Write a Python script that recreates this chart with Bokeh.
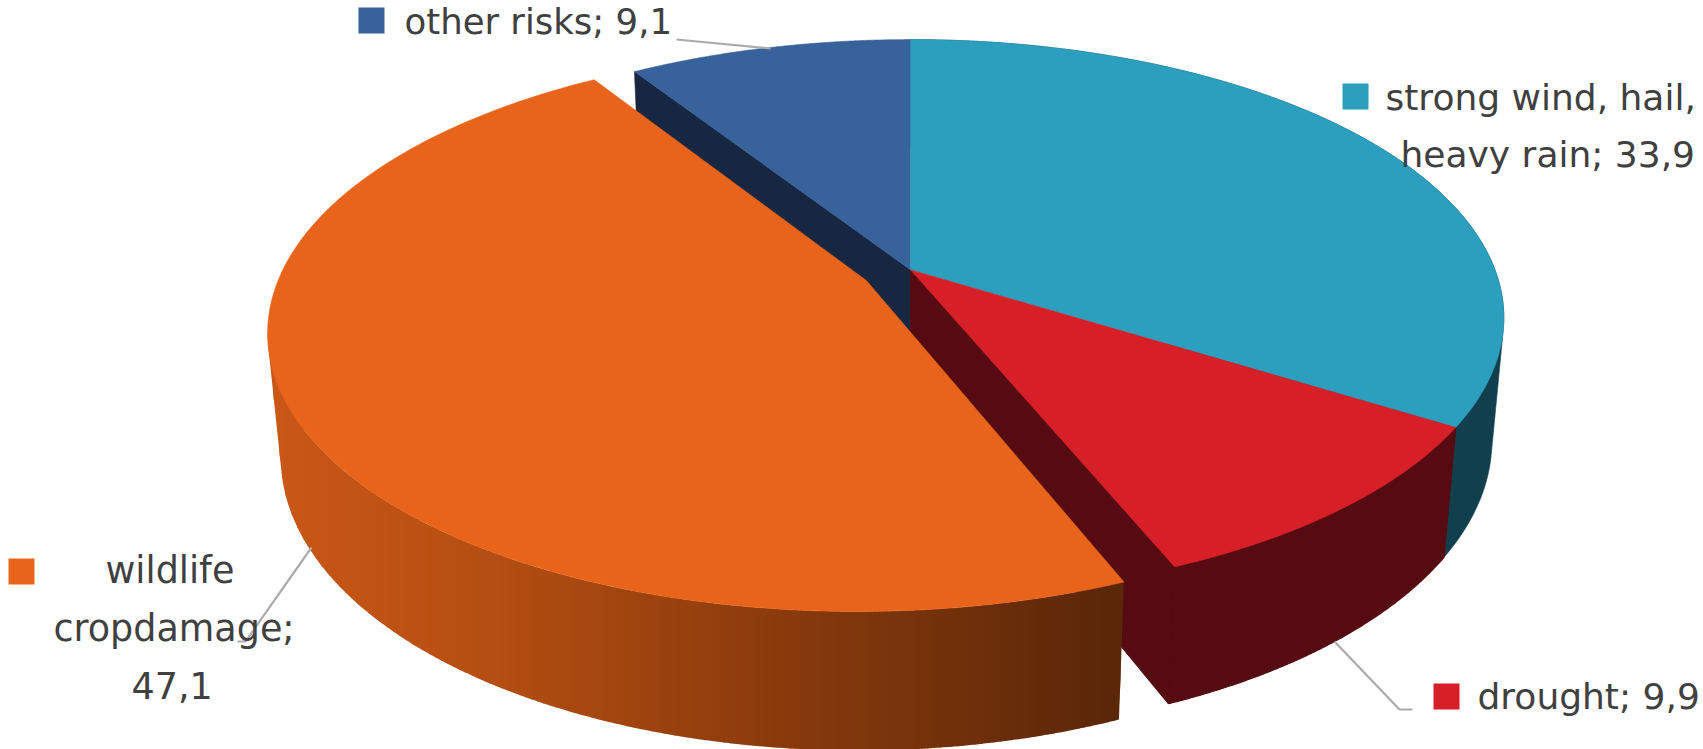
import math

import numpy as np
from bokeh.core.properties import value
from bokeh.embed import file_html
from bokeh.models import Range1d
from bokeh.plotting import figure
from bokeh.resources import INLINE

# Share of each risk, clockwise from twelve o'clock
categories = ["strong wind, hail, heavy rain", "drought", "wildlife crop damage", "other risks"]
shares = [33.9, 9.9, 47.1, 9.1]
top_colors = ["#2C9FBE", "#D71F27", "#E8641B", "#38629B"]
side_colors = ["#123F4E", "#560A11", None, "#172641"]
exploded = [0.0, 0.0, 0.085, 0.0]

# Shading of the wildlife wall, from left to right across the page
wall_stop_x = [265, 500, 765, 1120]
wall_stop_rgb = [(203, 88, 24), (180, 78, 18), (140, 60, 13), (90, 39, 9)]
wall_band_px = 6

# Legend keys: x, y, colour index
key_size = 26
key_spots = [(1342, 83, 0), (1433, 683, 1), (8, 558, 2), (358, 7, 3)]

# Label lines: text, left x, vertical middle y, font size
label_lines = [
    ("other risks; 9,1", 404, 21, 35.5),
    ("strong wind, hail,", 1385, 96.5, 36),
    ("heavy rain; 33,9", 1400, 153.5, 36),
    ("drought; 9,9", 1477, 695.5, 36),
    ("wildlife", 105, 570, 36.5),
    ("cropdamage;", 53, 628, 36.5),
    ("47,1", 131, 685, 36.5),
]
label_font = "DejaVu Sans"

# Leader lines between pie and labels
leaders = [
    ([676, 770], [39, 48]),
    ([1334, 1399, 1412], [641, 709, 709]),
    ([311, 245, 237], [547, 641, 641]),
]

# Perspective camera for the tilted disc
CX, CY = 910.2, 269.4
RX, RY = 584.3, 269.9
DEPTH = 123.8
TILT, DROP = 0.172, 0.02


def project(x, y, z=0.0):
    """Disc coordinates (unit radius, y away from viewer, z downward) to page pixels."""
    w = 1 + TILT * y + DROP * z
    return CX + RX * x / w, CY + (DEPTH * z - RY * y) / w


def slice_bounds(i):
    start = sum(shares[:i]) / sum(shares) * 2 * math.pi
    return start, start + shares[i] / sum(shares) * 2 * math.pi


def offset(i):
    a0, a1 = slice_bounds(i)
    mid = (a0 + a1) / 2
    return exploded[i] * math.sin(mid), exploded[i] * math.cos(mid)


def arc(i, a0, a1, n, z=0.0):
    ox, oy = offset(i)
    angles = np.linspace(a0, a1, n)
    pts = [project(ox + math.sin(a), oy + math.cos(a), z) for a in angles]
    return [q[0] for q in pts], [q[1] for q in pts]


def top_face(i):
    a0, a1 = slice_bounds(i)
    ox, oy = offset(i)
    ax, ay = project(ox, oy)
    xs, ys = arc(i, a0, a1, 160)
    return [ax] + xs, [ay] + ys


def outer_wall(i, n=160):
    a0, a1 = slice_bounds(i)
    xs, ys = arc(i, a0, a1, n)
    xb, yb = arc(i, a0, a1, n, 1.0)
    return xs + xb[::-1], ys + yb[::-1]


def radial_wall(i, angle):
    ox, oy = offset(i)
    x0, y0 = project(ox, oy)
    x1, y1 = project(ox + math.sin(angle), oy + math.cos(angle))
    x2, y2 = project(ox + math.sin(angle), oy + math.cos(angle), 1.0)
    x3, y3 = project(ox, oy, 1.0)
    return [x0, x1, x2, x3], [y0, y1, y2, y3]


def half_hull(points, sign):
    """One side of the convex hull of points sorted by x."""
    chain = []
    for q in points:
        while len(chain) >= 2:
            (ax, ay), (bx, by) = chain[-2], chain[-1]
            if sign * ((bx - ax) * (q[1] - ay) - (by - ay) * (q[0] - ax)) >= 0:
                chain.pop()
            else:
                break
        chain.append(q)
    return chain


def swept_rim(i):
    """Outline swept by the rim going from the upper face down to the lower one."""
    xs, ys = outer_wall(i)
    pts = sorted(zip(xs, ys))
    lower = half_hull(pts, -1)
    upper = half_hull(pts, 1)
    hull = lower + upper[::-1]
    return [q[0] for q in hull], [q[1] for q in hull]


p = figure(
    width=1703,
    height=749,
    x_range=Range1d(0, 1703),
    y_range=Range1d(749, 0),
    output_backend="svg",
    toolbar_location=None,
    min_border=0,
    outline_line_color=None,
    background_fill_color="white",
    border_fill_color="white",
)
p.axis.visible = False
p.grid.visible = False


def face(xs, ys, color, stroke=0.6):
    p.patch(xs, ys, fill_color=color, line_color=color if stroke else None, line_width=stroke or 1)


# Cut faces that show through the gap left by the pulled-out slice
blue, red, orange, teal = 3, 1, 2, 0
face(*radial_wall(blue, slice_bounds(blue)[0]), side_colors[blue])
face(*radial_wall(red, slice_bounds(red)[1]), side_colors[red], stroke=1.2)

# Rim of the slices that stay in place
face(*swept_rim(teal), side_colors[teal])
face(*outer_wall(red), side_colors[red], stroke=1.2)

# Upper faces of those slices
for i in (blue, teal, red):
    face(*top_face(i), top_colors[i])

# Rim of the wildlife slice, shaded in narrow vertical bands
a0, a1 = slice_bounds(orange)
tx, ty = arc(orange, a0, a1, 400)
bx, by = arc(orange, a0, a1, 400, 1.0)
rim_pts = sorted(zip(tx + bx, ty + by))
# y grows downward on the page, so the silhouette's lower edge is the hull's larger-y side
low_edge = half_hull(rim_pts, 1)
low_x, low_y = zip(*low_edge)
front = [(x, y) for x, y, a in zip(tx, ty, np.linspace(a0, a1, 400)) if a < 1.55 * math.pi]
front.sort()
up_x, up_y = zip(*front)
band_starts = np.arange(math.floor(min(low_x)), math.ceil(max(low_x)), wall_band_px)
for x0 in band_starts:
    x1 = min(x0 + wall_band_px + 1, max(low_x))
    rgb = [int(np.interp(x0 + wall_band_px / 2, wall_stop_x, [c[j] for c in wall_stop_rgb])) for j in range(3)]
    color = "#%02X%02X%02X" % tuple(rgb)
    y_up = [np.interp(x0, up_x, up_y), np.interp(x1, up_x, up_y)]
    # Keep the silhouette's own vertices so its corners survive inside a band
    inner = [(x, y) for x, y in low_edge if x0 < x < x1]
    lower_run = [(x0, np.interp(x0, low_x, low_y))] + inner + [(x1, np.interp(x1, low_x, low_y))]
    xs = [x0, x1] + [q[0] for q in lower_run[::-1]]
    ys = [y_up[0], y_up[1]] + [q[1] for q in lower_run[::-1]]
    face(xs, ys, color, stroke=0)
face(*top_face(orange), top_colors[orange])

# Leader lines
for xs, ys in leaders:
    p.line(xs, ys, line_color="#ABABAB", line_width=2.2)

# Legend keys beside the labels
for kx, ky, idx in key_spots:
    p.quad(left=kx, right=kx + key_size, top=ky, bottom=ky + key_size,
           fill_color=top_colors[idx], line_color=None)

# Label text
for text, tx_, ty_, size in label_lines:
    p.text(x=[tx_], y=[ty_], text=[text], text_font=value(label_font),
           text_font_size=f"{size}px", text_color="#404040",
           text_align="left", text_baseline="middle")

open("out.html", "w").write(file_html(p, INLINE))
